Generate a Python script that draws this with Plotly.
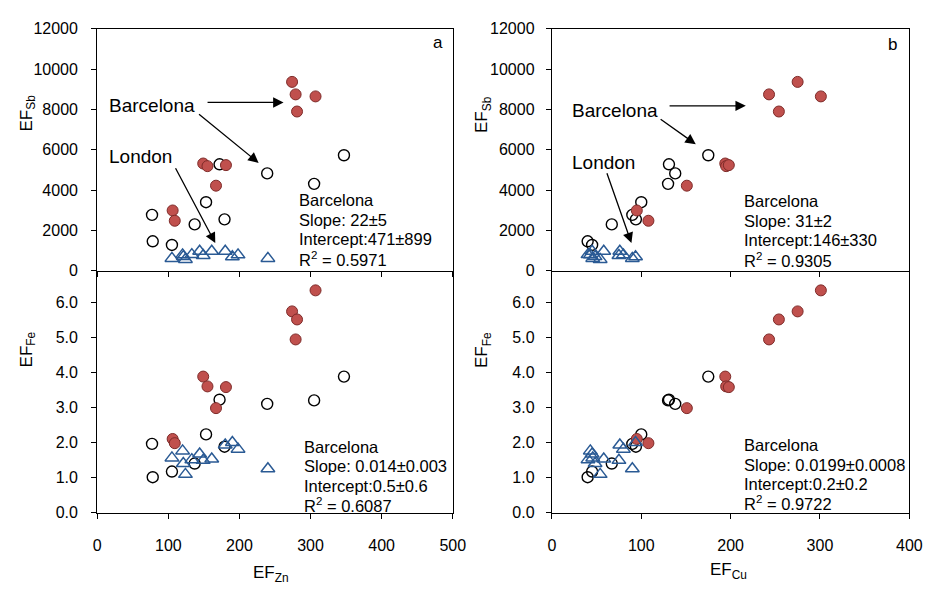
import plotly.graph_objects as go

# ---------------- data ----------------
# Barcelona, filled red circles
bcn_red_zn = [274, 279, 307, 281, 149, 155, 181, 167, 106, 109]
bcn_red_cu = [275, 243, 301, 254, 194, 195, 198, 151, 95, 108]
bcn_red_sb = [9370, 8750, 8650, 7900, 5320, 5190, 5240, 4220, 2990, 2480]
bcn_red_fe = [5.74, 4.94, 6.34, 5.51, 3.88, 3.60, 3.58, 2.98, 2.10, 1.98]

# Barcelona, open circles
bcn_open_zn = [78, 105, 77, 137, 153, 179, 172, 239, 305, 347]
bcn_open_cu = [40, 45, 90, 67, 100, 94, 131, 138, 130, 175]
bcn_open_sb = [1460, 1280, 2770, 2300, 3400, 2550, 5280, 4830, 4310, 5730]
bcn_open_fe = [1.01, 1.17, 1.96, 1.40, 2.23, 1.88, 3.22, 3.10, 3.20, 3.88]

# London, open triangles
lon_zn = [105, 120, 121, 124, 133, 144, 149, 161, 180, 190, 198, 240]
lon_cu = [45.7, 43, 48.3, 54, 40.4, 45, 75, 58, 76, 93.6, 80, 90]
lon_sb = [612, 787, 700, 563, 800, 967, 757, 967, 967, 691, 787, 612]
lon_fe = [1.56, 1.76, 1.40, 1.09, 1.51, 1.67, 1.49, 1.53, 1.93, 2.00, 1.81, 1.25]

stats_a_top = ["Barcelona", "Slope: 22±5", "Intercept:471±899", "R<sup>2</sup> = 0.5971"]
stats_a_bot = ["Barcelona", "Slope: 0.014±0.003", "Intercept:0.5±0.6", "R<sup>2</sup> = 0.6087"]
stats_b_top = ["Barcelona", "Slope: 31±2", "Intercept:146±330", "R<sup>2</sup> = 0.9305"]
stats_b_bot = ["Barcelona", "Slope: 0.0199±0.0008", "Intercept:0.2±0.2", "R<sup>2</sup> = 0.9722"]

RED = "#C0504D"
RED_LINE = "#7E2B29"
BLUE = "#2A5A94"
FONT = "Liberation Sans, Arial, sans-serif"

fig = go.Figure()

panels = [
    ("x", "y", bcn_open_zn, bcn_open_sb, bcn_red_zn, bcn_red_sb, lon_zn, lon_sb),
    ("x2", "y2", bcn_open_zn, bcn_open_fe, bcn_red_zn, bcn_red_fe, lon_zn, lon_fe),
    ("x3", "y3", bcn_open_cu, bcn_open_sb, bcn_red_cu, bcn_red_sb, lon_cu, lon_sb),
    ("x4", "y4", bcn_open_cu, bcn_open_fe, bcn_red_cu, bcn_red_fe, lon_cu, lon_fe),
]
for xa, ya, ox, oy, rx, ry, lx, ly in panels:
    fig.add_trace(go.Scatter(x=ox, y=oy, mode="markers", xaxis=xa, yaxis=ya,
                             marker=dict(symbol="circle-open", size=11, color="black",
                                         line=dict(width=1.4, color="black")),
                             showlegend=False, cliponaxis=False))
    fig.add_trace(go.Scatter(x=rx, y=ry, mode="markers", xaxis=xa, yaxis=ya,
                             marker=dict(symbol="circle", size=11, color=RED,
                                         line=dict(width=1, color=RED_LINE)),
                             showlegend=False, cliponaxis=False))
    fig.add_trace(go.Scatter(x=lx, y=ly, mode="markers", xaxis=xa, yaxis=ya,
                             marker=dict(symbol="triangle-up-open", size=12, color=BLUE,
                                         line=dict(width=1.5, color=BLUE)),
                             showlegend=False, cliponaxis=False))

W, H = 940, 592
xa_dom = [95 / W, 457 / W]
xb_dom = [558 / W, 922 / W]
top_dom = [1 - 270.5 / H, 1 - 21.5 / H]
bot_dom = [1 - 519.5 / H, 1 - 270.5 / H]

ytickfont = dict(family=FONT, size=16, color="black")
xtickfont = dict(family=FONT, size=16, color="black")
common = dict(showline=True, linecolor="black", linewidth=1.3,
              ticks="outside", ticklen=5, tickcolor="black", tickwidth=1.2,
              showgrid=False, zeroline=False, fixedrange=True)

fig.update_layout(
    width=W, height=H, margin=dict(l=0, r=0, t=0, b=0),
    paper_bgcolor="white", plot_bgcolor="white",
    font=dict(family=FONT, color="black"),
    xaxis=dict(domain=xa_dom, anchor="y", range=[0, 500], dtick=100, showticklabels=False,
               mirror=True, tickfont=xtickfont, **common),
    yaxis=dict(domain=top_dom, anchor="x", range=[0, 12000], dtick=2000, tickformat="d",
               ticklabelstandoff=10, mirror=True, tickfont=ytickfont, **common),
    xaxis2=dict(domain=xa_dom, anchor="y2", range=[0, 500], dtick=100, ticklabelstandoff=13,
                mirror=False, tickfont=xtickfont, **common),
    yaxis2=dict(domain=bot_dom, anchor="x2", range=[0, 6.9], dtick=1, tickformat=".1f",
                ticklabelstandoff=10, mirror=True, tickfont=ytickfont, **common),
    xaxis3=dict(domain=xb_dom, anchor="y3", range=[0, 400], dtick=100, showticklabels=False,
                mirror=True, tickfont=xtickfont, **common),
    yaxis3=dict(domain=top_dom, anchor="x3", range=[0, 12000], dtick=2000, tickformat="d",
                ticklabelstandoff=8, mirror=True, tickfont=ytickfont, **common),
    xaxis4=dict(domain=xb_dom, anchor="y4", range=[0, 400], dtick=100, ticklabelstandoff=13,
                mirror=False, tickfont=xtickfont, **common),
    yaxis4=dict(domain=bot_dom, anchor="x4", range=[0, 6.9], dtick=1, tickformat=".1f",
                ticklabelstandoff=8, mirror=True, tickfont=ytickfont, **common),
)

ann = []
lab_font = dict(family=FONT, size=19, color="black")
ttl_font = dict(family=FONT, size=17, color="black")
stat_font = dict(family=FONT, size=16.5, color="black")


def px(xp, yp):
    return dict(x=xp / W, y=1 - yp / H, xref="paper", yref="paper")


# panel letters
ann.append(dict(text="a", showarrow=False, font=ttl_font, xanchor="center", yanchor="middle", **px(442, 36)))
ann.append(dict(text="b", showarrow=False, font=ttl_font, xanchor="center", yanchor="middle", **px(905, 38)))

# axis titles
ann.append(dict(text="EF<sub>Sb</sub>", showarrow=False, font=ttl_font, textangle=-90,
                xanchor="center", yanchor="middle", **px(24, 108)))
ann.append(dict(text="EF<sub>Fe</sub>", showarrow=False, font=ttl_font, textangle=-90,
                xanchor="center", yanchor="middle", **px(24, 352)))
ann.append(dict(text="EF<sub>Sb</sub>", showarrow=False, font=ttl_font, textangle=-90,
                xanchor="center", yanchor="middle", **px(488, 110)))
ann.append(dict(text="EF<sub>Fe</sub>", showarrow=False, font=ttl_font, textangle=-90,
                xanchor="center", yanchor="middle", **px(488, 352)))
ann.append(dict(text="EF<sub>Zn</sub>", showarrow=False, font=ttl_font,
                xanchor="center", yanchor="middle", **px(272, 583)))
ann.append(dict(text="EF<sub>Cu</sub>", showarrow=False, font=ttl_font,
                xanchor="center", yanchor="middle", **px(738, 580)))

# stats blocks, one annotation per line
for lines, xp, y0 in [(stats_a_top, 298, 198), (stats_a_bot, 303, 452),
                      (stats_b_top, 752, 199), (stats_b_bot, 752, 450)]:
    for i, line in enumerate(lines):
        ann.append(dict(text=line, showarrow=False, font=stat_font, align="left",
                        xanchor="left", yanchor="middle", **px(xp, y0 + 20 * i)))

# labels and arrows (data coordinates)
arrow_style = dict(showarrow=True, arrowhead=2, arrowsize=1.6, arrowwidth=1.3, arrowcolor="black")
ann.append(dict(text="Barcelona", x=13, y=8220, xref="x", yref="y", showarrow=False,
                font=lab_font, xanchor="left", yanchor="middle"))
ann.append(dict(text="London", x=13, y=5655, xref="x", yref="y", showarrow=False,
                font=lab_font, xanchor="left", yanchor="middle"))
ann.append(dict(text="", x=262, y=8350, ax=153, ay=8350, xref="x", yref="y", axref="x", ayref="y", **arrow_style))
ann.append(dict(text="", x=227, y=5350, ax=141, ay=7830, xref="x", yref="y", axref="x", ayref="y", **arrow_style))
ann.append(dict(text="", x=166, y=1370, ax=109, ay=5160, xref="x", yref="y", axref="x", ayref="y", **arrow_style))

ann.append(dict(text="Barcelona", x=20, y=7975, xref="x3", yref="y3", showarrow=False,
                font=lab_font, xanchor="left", yanchor="middle"))
ann.append(dict(text="London", x=20, y=5365, xref="x3", yref="y3", showarrow=False,
                font=lab_font, xanchor="left", yanchor="middle"))
ann.append(dict(text="", x=217, y=8180, ax=130, ay=8180, xref="x3", yref="y3", axref="x3", ayref="y3", **arrow_style))
ann.append(dict(text="", x=161, y=6280, ax=120, ay=7570, xref="x3", yref="y3", axref="x3", ayref="y3", **arrow_style))
ann.append(dict(text="", x=89, y=1370, ax=61, ay=4915, xref="x3", yref="y3", axref="x3", ayref="y3", **arrow_style))

fig.update_layout(annotations=ann)
fig.write_html("out.html")
